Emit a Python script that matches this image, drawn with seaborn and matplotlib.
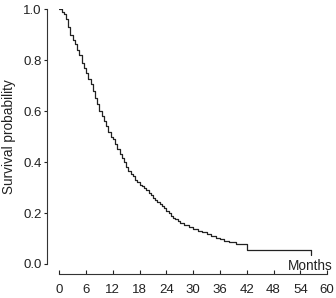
import matplotlib
matplotlib.use("Agg")
import matplotlib.pyplot as plt
import seaborn as sns
import pandas as pd

months = [0.0, 0.5, 1.0, 1.5, 2.0, 2.5, 3.0, 3.5, 4.0, 4.5, 5.0, 5.5, 6.0, 6.5, 7.0, 7.5,
          8.0, 8.5, 9.0, 9.5, 10.0, 10.5, 11.0, 11.5, 12.0, 12.5, 13.0, 13.5, 14.0, 14.5,
          15.0, 15.5, 16.0, 16.5, 17.0, 17.5, 18.0, 18.5, 19.0, 19.5, 20.0, 20.5, 21.0,
          21.5, 22.0, 22.5, 23.0, 23.5, 24.0, 24.5, 25.0, 25.5, 26.0, 26.5, 27.0, 28.0,
          29.0, 30.0, 31.0, 32.0, 33.0, 34.0, 35.0, 36.0, 37.0, 38.0, 39.5, 42.0, 56.3]
survival = [1.0, 0.99, 0.98, 0.96, 0.93, 0.90, 0.88, 0.865, 0.84, 0.82, 0.79, 0.77, 0.75,
            0.725, 0.705, 0.68, 0.65, 0.63, 0.60, 0.58, 0.56, 0.54, 0.52, 0.50, 0.49, 0.47,
            0.45, 0.43, 0.415, 0.40, 0.38, 0.365, 0.355, 0.345, 0.33, 0.32, 0.31, 0.305,
            0.30, 0.29, 0.28, 0.27, 0.26, 0.25, 0.245, 0.235, 0.228, 0.22, 0.21, 0.20, 0.19,
            0.182, 0.175, 0.168, 0.16, 0.155, 0.145, 0.138, 0.13, 0.125, 0.118, 0.11, 0.103,
            0.097, 0.09, 0.085, 0.079, 0.055, 0.055]
x_ticks = [0, 6, 12, 18, 24, 30, 36, 42, 48, 54, 60]
y_ticks = [0.0, 0.2, 0.4, 0.6, 0.8, 1.0]

sns.set_style("ticks")
plt.rcParams['font.family'] = ['Liberation Sans', 'DejaVu Sans']

df = pd.DataFrame({"Months": months, "Survival": survival})

fig = plt.figure(figsize=(3.36, 2.98), dpi=100)
ax = fig.add_axes([0.1765, 0.1141, 0.797, 0.8547])
sns.lineplot(data=df, x="Months", y="Survival", drawstyle="steps-post",
             estimator=None, sort=False, color="#222222", linewidth=0.9, ax=ax)
# censor tick at end
ax.plot([months[-1], months[-1]], [survival[-1], survival[-1] - 0.02],
        color="#222222", linewidth=0.9)

ax.set_xlim(0, 60)
ax.set_ylim(0, 1)
ax.set_xticks(x_ticks)
ax.set_xticklabels([str(t) for t in x_ticks])
ax.set_yticks(y_ticks)
ax.set_yticklabels([f"{t:.1f}" for t in y_ticks])
ax.set_xlabel("")
ax.set_ylabel("Survival probability", fontsize=9.8, labelpad=5, color="#222222")
ax.text(1.02, -0.007, "Months", transform=ax.transAxes, ha="right", va="center",
        fontsize=9.8, color="#222222")

for s in ["top", "right"]:
    ax.spines[s].set_visible(False)
ax.spines["left"].set_position(("outward", 8.6))
ax.spines["bottom"].set_position(("outward", 7.2))
for s in ["left", "bottom"]:
    ax.spines[s].set_color("#333333")
    ax.spines[s].set_linewidth(0.8)
ax.tick_params(axis="y", direction="out", length=2.5, width=0.8, pad=1.5,
               labelsize=9.5, colors="#222222")
ax.tick_params(axis="x", direction="in", length=3, width=0.8, pad=7,
               labelsize=9.5, colors="#222222")

fig.savefig("out.png", dpi=100)
